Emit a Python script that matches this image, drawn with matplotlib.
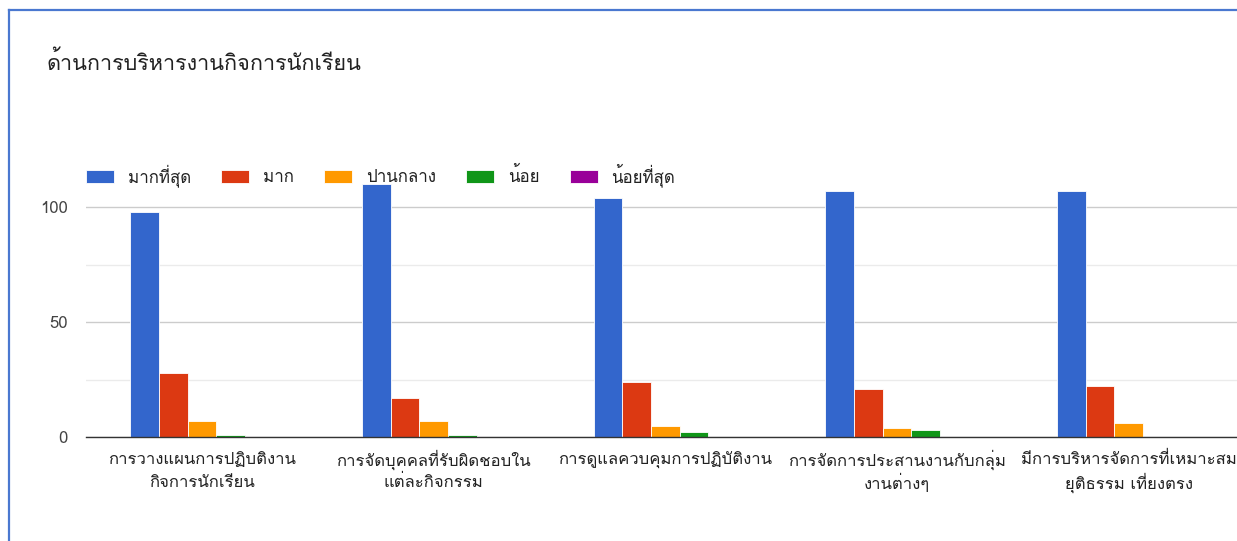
import matplotlib
matplotlib.use('Agg')
import matplotlib.pyplot as plt
import numpy as np
from matplotlib import font_manager as fm
from matplotlib.ft2font import FT2Font
from matplotlib.lines import Line2D

# หา font ที่มีอักษรไทย
thai_font = None
for f in fm.fontManager.ttflist:
    try:
        if 0x0E01 in FT2Font(f.fname).get_charmap():
            thai_font = f.name
            break
    except Exception:
        pass
families = ([thai_font] if thai_font else []) + ['Roboto', 'DejaVu Sans']
plt.rcParams['font.family'] = families

# ข้อมูล
title = 'ด้านการบริหารงานกิจการนักเรียน'
categories = [
    'การวางแผนการปฏิบติงาน\nกิจการนักเรียน',
    'การจัดบุคคลที่รับผิดชอบใน\nแต่ละกิจกรรม',
    'การดูแลควบคุมการปฏิบัติงาน',
    'การจัดการประสานงานกับกลุ่ม\nงานต่างๆ',
    'มีการบริหารจัดการที่เหมาะสม\nยุติธรรม เที่ยงตรง',
]
series_names = ['มากที่สุด', 'มาก', 'ปานกลาง', 'น้อย', 'น้อยที่สุด']
most = [98, 110, 104, 107, 107]
much = [28, 17, 24, 21, 22]
medium = [7, 7, 5, 4, 6]
little = [1, 1, 2, 3, 0]
least = [0, 0, 0, 0, 0]
series = [most, much, medium, little, least]
colors = ['#3366cc', '#dc3912', '#ff9900', '#109618', '#990099']

W, H = 1237, 541
fig = plt.figure(figsize=(W / 100, H / 100), dpi=100)

# กรอบ
fig.add_artist(Line2D([8.5 / W, 8.5 / W], [0, 1 - 9.5 / H], color='#4a78d0', lw=1.6))
fig.add_artist(Line2D([8.5 / W, 1], [1 - 9.5 / H, 1 - 9.5 / H], color='#4a78d0', lw=1.6))

px_per_unit = 2.296
ymax = 112
ax = fig.add_axes([86 / W, 104 / H, (W - 86) / W, ymax * px_per_unit / H])

x = np.arange(len(categories))
bw = 0.1236
for k, (vals, name, c) in enumerate(zip(series, series_names, colors)):
    ax.bar(x + (k - 2) * bw, vals, width=bw, color=c, edgecolor='white',
           linewidth=0.6, label=name, zorder=5)

ax.set_xlim(-0.5, -0.5 + (W - 87) / 231.5)
ax.set_ylim(0, ymax)
ax.set_yticks([0, 50, 100])
ax.set_yticks([25, 75], minor=True)
ax.grid(axis='y', which='major', color='#cccccc', lw=1, zorder=0)
ax.grid(axis='y', which='minor', color='#ebebeb', lw=1, zorder=0)
ax.tick_params(axis='y', which='both', length=0, pad=13, labelsize=12, labelcolor='#444444')
ax.set_xticks(x)
ax.set_xticklabels([])
ax.tick_params(axis='x', length=0)
for s in ['top', 'right', 'left']:
    ax.spines[s].set_visible(False)
ax.spines['bottom'].set_color('#333333')
ax.spines['bottom'].set_linewidth(1.0)
ax.spines['bottom'].set_zorder(6)

# ป้ายหมวดหมู่ (วางทีละบรรทัด)
for xi, label in zip(x, categories):
    for j, line in enumerate(label.split('\n')):
        ax.annotate(line, xy=(xi, 0), xycoords=('data', 'axes fraction'),
                    xytext=(0, -16.6 - j * 16.6), textcoords='offset points',
                    ha='center', va='center', fontsize=12, color='#222222',
                    annotation_clip=False)

fig.text(46 / W, 1 - 63 / H, title, fontsize=15.6, color='#222222', va='center', ha='left')

fs = 12.2
fpx = fs * 100 / 72
fig.legend(loc='center left', bbox_to_anchor=(86 / W, 1 - 175 / H), ncol=5,
           frameon=False, fontsize=fs, borderpad=0, borderaxespad=0,
           handlelength=28 / fpx, handleheight=13 / fpx, handletextpad=14 / fpx,
           columnspacing=30 / fpx, labelcolor='#222222')

fig.savefig('out.png', dpi=100)
